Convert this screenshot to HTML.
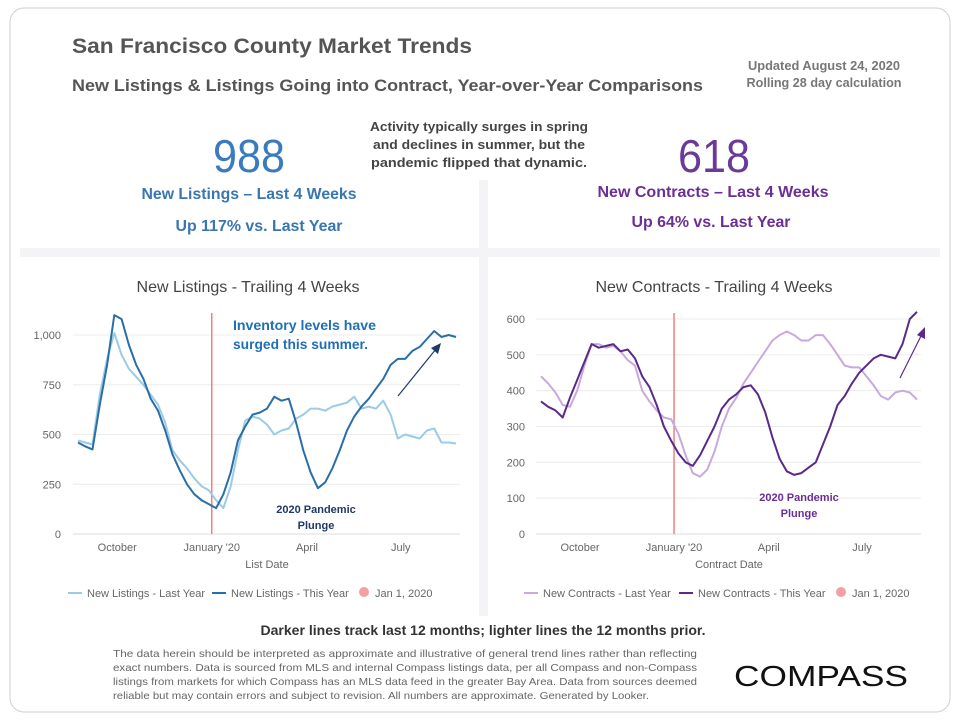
<!DOCTYPE html>
<html><head><meta charset="utf-8"><style>
html,body{margin:0;padding:0;background:#fff;}
svg{display:block;font-family:"Liberation Sans",sans-serif;}
</style></head><body>
<svg id="root" width="960" height="720" viewBox="0 0 960 720" xmlns="http://www.w3.org/2000/svg">
<rect x="10" y="8" width="940" height="704" rx="14" fill="#fff" stroke="#cfcfcf"/>
<rect x="20" y="104" width="920" height="512" fill="#f4f4f6"/>
<rect x="20" y="104" width="459" height="144" fill="#fff"/>
<rect x="488" y="104" width="452" height="144" fill="#fff"/>
<rect x="20" y="257" width="459" height="359" fill="#fff"/>
<rect x="488" y="257" width="452" height="359" fill="#fff"/>
<rect x="360" y="104" width="240" height="76" fill="#fff"/>

<text x="72" y="53" font-size="21" font-weight="bold" fill="#555" textLength="400" lengthAdjust="spacingAndGlyphs">San Francisco County Market Trends</text>
<text x="72" y="91" font-size="17" font-weight="bold" fill="#555" textLength="631" lengthAdjust="spacingAndGlyphs">New Listings &amp; Listings Going into Contract, Year-over-Year Comparisons</text>
<text x="824" y="70" font-size="13" font-weight="bold" fill="#777" text-anchor="middle" textLength="152" lengthAdjust="spacingAndGlyphs">Updated August 24, 2020</text>
<text x="824" y="87" font-size="13" font-weight="bold" fill="#777" text-anchor="middle" textLength="155" lengthAdjust="spacingAndGlyphs">Rolling 28 day calculation</text>

<g font-size="13" font-weight="bold" fill="#444" text-anchor="middle">
<text x="479" y="131" textLength="218" lengthAdjust="spacingAndGlyphs">Activity typically surges in spring</text>
<text x="479" y="149" textLength="212" lengthAdjust="spacingAndGlyphs">and declines in summer, but the</text>
<text x="479" y="167" textLength="216" lengthAdjust="spacingAndGlyphs">pandemic flipped that dynamic.</text>
</g>

<text x="249" y="172" font-size="46" fill="#3a7bbf" text-anchor="middle" textLength="72" lengthAdjust="spacingAndGlyphs">988</text>
<text x="249" y="199" font-size="16" font-weight="bold" fill="#3a76b0" text-anchor="middle" textLength="215" lengthAdjust="spacingAndGlyphs">New Listings – Last 4 Weeks</text>
<text x="259" y="231" font-size="16" font-weight="bold" fill="#3a76b0" text-anchor="middle" textLength="167" lengthAdjust="spacingAndGlyphs">Up 117% vs. Last Year</text>
<text x="714" y="172" font-size="46" fill="#6a3a9a" text-anchor="middle" textLength="72" lengthAdjust="spacingAndGlyphs">618</text>
<text x="713" y="197" font-size="16" font-weight="bold" fill="#6a2f96" text-anchor="middle" textLength="231" lengthAdjust="spacingAndGlyphs">New Contracts – Last 4 Weeks</text>
<text x="711" y="227" font-size="16" font-weight="bold" fill="#6a2f96" text-anchor="middle" textLength="159" lengthAdjust="spacingAndGlyphs">Up 64% vs. Last Year</text>

<g id="chartL"></g>
<g id="chartR"></g>

<text x="483" y="635" font-size="14" font-weight="bold" fill="#333" text-anchor="middle" textLength="445" lengthAdjust="spacingAndGlyphs">Darker lines track last 12 months; lighter lines the 12 months prior.</text>
<g font-size="10.5" fill="#666">
<text x="113" y="657" textLength="584" lengthAdjust="spacingAndGlyphs">The data herein should be interpreted as approximate and illustrative of general trend lines rather than reflecting</text>
<text x="113" y="671" textLength="584" lengthAdjust="spacingAndGlyphs">exact numbers. Data is sourced from MLS and internal Compass listings data, per all Compass and non-Compass</text>
<text x="113" y="685" textLength="584" lengthAdjust="spacingAndGlyphs">listings from markets for which Compass has an MLS data feed in the greater Bay Area. Data from sources deemed</text>
<text x="113" y="699" textLength="536" lengthAdjust="spacingAndGlyphs">reliable but may contain errors and subject to revision. All numbers are approximate. Generated by Looker.</text>
</g>
<text x="734" y="686" font-size="29" fill="#111" textLength="174" lengthAdjust="spacingAndGlyphs">COMPASS</text>
</svg>
<script>
// ----- Listings data (weekly, trailing 4 weeks) -----
const listingsLastYear = [470,460,450,700,880,1010,900,830,790,750,700,650,560,420,370,330,280,240,220,170,130,240,420,570,590,580,550,500,520,530,580,600,630,630,620,640,650,660,690,630,640,630,670,600,480,500,490,480,520,530,460,460,455];
const listingsThisYear = [460,440,425,650,850,1100,1080,950,850,780,680,620,520,400,320,250,200,170,150,130,200,310,470,540,600,610,630,690,670,680,560,420,310,230,260,330,420,520,590,640,680,730,780,850,880,880,920,940,980,1020,990,1000,990];
const listingsTicks = [0,250,500,750,1000];
const listingsTickLabels = ["0","250","500","750","1,000"];
// ----- Contracts data -----
const contractsLastYear = [440,420,395,360,355,400,470,530,530,520,525,510,485,470,400,370,345,325,320,280,220,170,160,180,230,300,350,380,420,450,480,510,540,555,565,555,540,540,555,555,530,500,470,465,465,440,415,385,375,395,400,395,375];
const contractsThisYear = [370,355,345,325,380,430,480,530,520,525,530,510,515,490,440,410,360,300,260,225,200,190,220,260,300,350,375,390,410,415,390,340,270,210,175,165,170,185,200,250,300,360,385,420,450,470,490,500,495,490,530,600,620];
const contractsTicks = [0,100,200,300,400,500,600];
const contractsTickLabels = ["0","100","200","300","400","500","600"];
// ----- Shared x-axis (week index) -----
const monthLabels = ["October","January '20","April","July"];
const monthWeeks = [5.4,18.4,31.5,44.4];
const jan1Week = 18.4;

const NS="http://www.w3.org/2000/svg";
function mk(tag,attrs,parent){const e=document.createElementNS(NS,tag);for(const k in attrs)e.setAttribute(k,attrs[k]);parent.appendChild(e);return e;}

function drawChart(g,cfg){
  const x=i=>cfg.x0+(cfg.x1-cfg.x0)*i/52;
  const y=v=>cfg.yBase-(cfg.yBase-cfg.yTop)*v/cfg.yMax;
  let t=mk('text',{x:cfg.titleX,y:292,'font-size':16,fill:'#444','text-anchor':'middle'},g);
  
  
  t.textContent=cfg.title;
  cfg.ticks.forEach((v,k)=>{
    const gl=mk('line',{x1:cfg.x0-5,x2:cfg.x1+4,y1:y(v),y2:y(v),stroke:v===0?'#dcdcdc':'#ececec','stroke-width':1},g);
    
    
    const tl=mk('text',{x:cfg.labelX,y:y(v)+4,'font-size':11,fill:'#666','text-anchor':'end'},g);
    
    
    tl.textContent=cfg.tickLabels[k];
  });
  monthLabels.forEach((m,k)=>{
    const ml=mk('text',{x:x(monthWeeks[k]),y:551,'font-size':11,fill:'#666','text-anchor':'middle'},g);
    
    
    ml.textContent=m;
  });
  const at=mk('text',{x:cfg.axisTitleX,y:568,'font-size':11,fill:'#666','text-anchor':'middle'},g);
  
  
  at.textContent=cfg.axisTitle;
  const rl=mk('line',{x1:x(jan1Week),x2:x(jan1Week),y1:y(0),y2:313,stroke:'#f08080','stroke-width':1.5},g);
  
  
  const path=arr=>arr.map((v,i)=>(i?'L':'M')+x(i).toFixed(1)+','+y(v).toFixed(1)).join('');
  const p1=mk('path',{d:path(cfg.last),fill:'none',stroke:cfg.light,'stroke-width':2,'stroke-linejoin':'round'},g);
  
  
  const p2=mk('path',{d:path(cfg.cur),fill:'none',stroke:cfg.dark,'stroke-width':2,'stroke-linejoin':'round'},g);
  
  
  const L=cfg.legend;
  const lg=mk('g',{},g);
  
  
  const e1=mk('line',{x1:L[0],x2:L[0]+14,y1:593,y2:593,stroke:cfg.light,'stroke-width':2},lg);
  
  
  const t1=mk('text',{x:L[0]+19,y:597,'font-size':11,fill:'#666'},lg);
  
  
  t1.textContent=cfg.seriesName+' - Last Year';
  const e2=mk('line',{x1:L[1],x2:L[1]+14,y1:593,y2:593,stroke:cfg.dark,'stroke-width':2},lg);
  
  
  const t2=mk('text',{x:L[1]+19,y:597,'font-size':11,fill:'#666'},lg);
  
  
  t2.textContent=cfg.seriesName+' - This Year';
  const c3=mk('circle',{cx:L[2],cy:592,r:5,fill:'#f4a0a0'},lg);
  
  
  const t3=mk('text',{x:L[2]+11,y:597,'font-size':11,fill:'#666'},lg);
  
  
  t3.textContent='Jan 1, 2020';
}
drawChart(document.getElementById('chartL'),{x0:78,x1:456,yBase:534,yTop:335,yMax:1000,ticks:listingsTicks,tickLabels:listingsTickLabels,labelX:61,title:'New Listings - Trailing 4 Weeks',titleX:248,axisTitle:'List Date',axisTitleX:267,last:listingsLastYear,cur:listingsThisYear,light:'#9ccbe6',dark:'#2a6ea8',legend:[68,212,364],seriesName:'New Listings'});
drawChart(document.getElementById('chartR'),{x0:541,x1:917,yBase:534,yTop:319,yMax:600,ticks:contractsTicks,tickLabels:contractsTickLabels,labelX:525,title:'New Contracts - Trailing 4 Weeks',titleX:714,axisTitle:'Contract Date',axisTitleX:729,last:contractsLastYear,cur:contractsThisYear,light:'#c9a9db',dark:'#5a2a88',legend:[524,679,841],seriesName:'New Contracts'});

const root=document.getElementById('root');
const ann=mk('g',{},root);


ann.innerHTML='<text x="233" y="330" font-size="14" font-weight="bold" fill="#1f6fb5" textLength="143" lengthAdjust="spacingAndGlyphs">Inventory levels have</text>'+
'<text x="233" y="349" font-size="14" font-weight="bold" fill="#1f6fb5" textLength="135" lengthAdjust="spacingAndGlyphs">surged this summer.</text>'+
'<text x="316" y="513" font-size="11" font-weight="bold" fill="#1f3a66" text-anchor="middle">2020 Pandemic</text>'+
'<text x="316" y="529" font-size="11" font-weight="bold" fill="#1f3a66" text-anchor="middle">Plunge</text>'+
'<text x="799" y="501" font-size="11" font-weight="bold" fill="#6a2f96" text-anchor="middle">2020 Pandemic</text>'+
'<text x="799" y="517" font-size="11" font-weight="bold" fill="#6a2f96" text-anchor="middle">Plunge</text>'+
'<line x1="398" y1="396" x2="436" y2="349" stroke="#1f3a66" stroke-width="1.2"/>'+
'<polygon points="441,343 438,354 431,348" fill="#1f3a66"/>'+
'<line x1="900" y1="378" x2="922" y2="334" stroke="#5a2a88" stroke-width="1.2"/>'+
'<polygon points="925,327 925,339 917,335" fill="#5a2a88"/>';
</script>
</body></html>
